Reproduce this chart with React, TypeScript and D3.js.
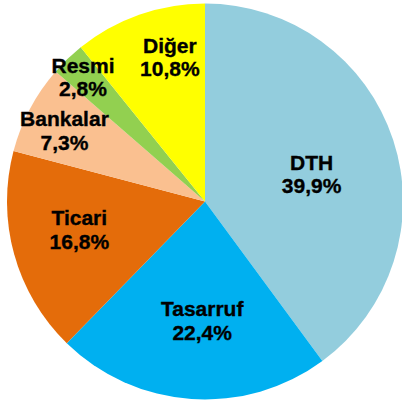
import React from "react";
import * as d3 from "d3";

const categories = ["DTH", "Tasarruf", "Ticari", "Bankalar", "Resmi", "Diğer"];
const values = [39.9, 22.4, 16.8, 7.3, 2.8, 10.8];
const valueLabels = ["39,9%", "22,4%", "16,8%", "7,3%", "2,8%", "10,8%"];
const colors = ["#93CDDD", "#00B0F0", "#E46C0A", "#FAC090", "#92D050", "#FFFF00"];

// label layout: radius fraction and angle nudge (deg)
const labelRadiusFrac = [0.556, 0.6, 0.65, 0.796, 0.882, 0.753];
const labelAngleNudge = [3.7, -2.6, 3.1, -1.0, -0.4, 5.8];

export default function App() {
  const W = 402, H = 405;
  const cx = 205, cy = 201.5, R = 198;
  const pie = d3.pie<number>().sort(null).value((d) => d);
  const arcs = pie(values);
  const arc = d3.arc<d3.PieArcDatum<number>>().innerRadius(0).outerRadius(R);
  return (
    <svg width={W} height={H} style={{ position: "absolute", left: 0, top: 0, background: "#fff" }}
      fontFamily="'Liberation Sans', Arial, sans-serif">
      <g transform={`translate(${cx},${cy})`}>
        {arcs.map((a, i) => (
          <path key={i} d={arc(a) || ""} fill={colors[i]} />
        ))}
        {arcs.map((a, i) => {
          const mid = (a.startAngle + a.endAngle) / 2 + (labelAngleNudge[i] * Math.PI) / 180;
          const r = R * labelRadiusFrac[i];
          const x = r * Math.sin(mid);
          const y = -r * Math.cos(mid);
          return (
            <text key={i} x={x} y={y} textAnchor="middle" fontWeight="bold" fontSize={21}
              fill="#000" stroke="#000" strokeWidth={0.35}>
              <tspan x={x} dy={-4}>{categories[i]}</tspan>
              <tspan x={x} dy={23.5}>{valueLabels[i]}</tspan>
            </text>
          );
        })}
      </g>
    </svg>
  );
}
